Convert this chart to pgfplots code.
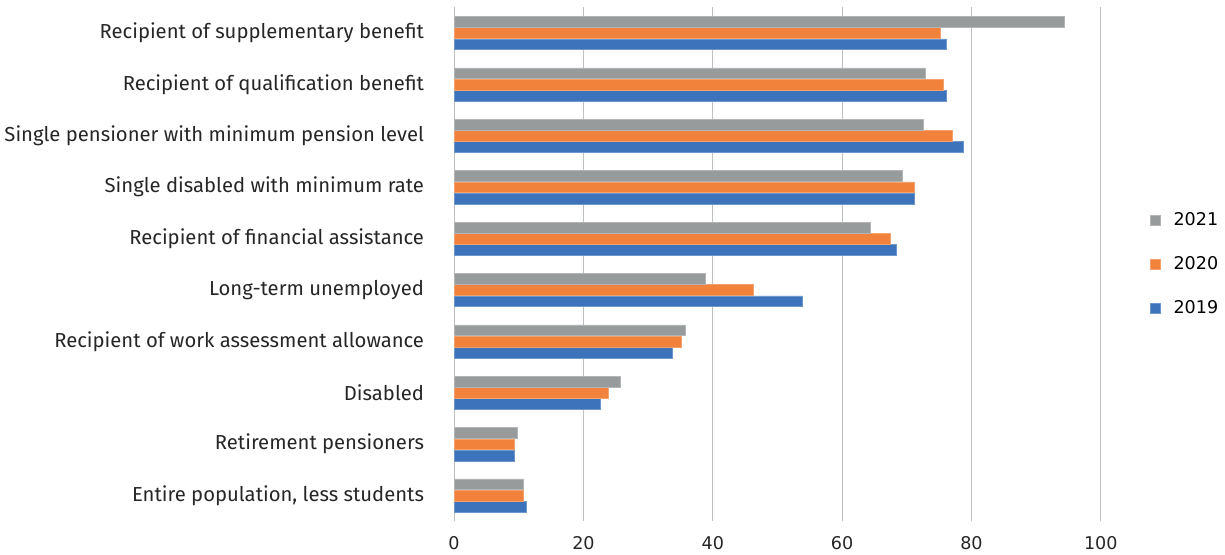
\documentclass[border=0pt]{standalone}
\usepackage{pgfplots}
\pgfplotsset{compat=1.18}
\usepackage{fontspec}
\setmainfont{Fira Sans}
\newfontfamily\tickfont{DejaVu Sans}
\definecolor{cgrey}{RGB}{152,155,156}
\definecolor{corange}{RGB}{240,130,60}
\definecolor{cblue}{RGB}{61,115,186}
\definecolor{cgrid}{RGB}{190,192,194}
\begin{document}
\begin{tikzpicture}
\begin{axis}[
  scale only axis,
  width=479pt, height=380.6pt,
  xbar=0.3pt, bar width=8pt,
  xmin=0, xmax=100,
  ymin=-0.5, ymax=9.5,
  xtick={0,20,40,60,80,100},
  ytick={0,1,2,3,4,5,6,7,8,9},
  yticklabels={{Entire population, less students},{Retirement pensioners},{Disabled},{Recipient of work assessment allowance},{Long-term unemployed},{Recipient of financial assistance},{Single disabled with minimum rate},{Single pensioner with minimum pension level},{Recipient of qualification benefit},{Recipient of supplementary benefit}},
  yticklabel style={font=\fontsize{15pt}{17pt}\selectfont, text=black!85, xshift=-14.5pt},
  xticklabel style={font=\tickfont\fontsize{13pt}{15pt}\selectfont, text=black!85, yshift=-8pt},
  /pgf/number format/assume math mode=true,
  xmajorgrids, major grid style={cgrid, line width=0.8pt},
  axis line style={draw=none},
  tick style={draw=none},
  legend style={draw=none, fill=none, at={(1.07,0.5)}, anchor=west,
    font=\tickfont\fontsize{13pt}{15pt}\selectfont, row sep=17.5pt,
    legend cell align=left},
  legend image code/.code={\fill[#1] (0pt,-3.75pt) rectangle (7.5pt,3.75pt); \path[draw=none,fill=none] (0pt,0pt) rectangle (15pt,0.1pt);},
  reverse legend,
]
\addplot[fill=cblue, draw=cblue!75!white, line width=0.4pt] coordinates {
 (11.1,0) (9.3,1) (22.6,2) (33.8,3) (53.9,4) (68.4,5) (71.1,6) (78.8,7) (76.1,8) (76.1,9)};
\addplot[fill=corange, draw=corange!75!white, line width=0.4pt] coordinates {
 (10.7,0) (9.3,1) (23.8,2) (35.2,3) (46.2,4) (67.4,5) (71.1,6) (77.0,7) (75.6,8) (75.2,9)};
\addplot[fill=cgrey, draw=cgrey!75!white, line width=0.4pt] coordinates {
 (10.7,0) (9.8,1) (25.7,2) (35.7,3) (38.9,4) (64.3,5) (69.3,6) (72.5,7) (72.9,8) (94.3,9)};
\legend{2019,2020,2021}
\end{axis}
\path (current axis.north) -- ++(0pt,5.5pt);
\end{tikzpicture}
\end{document}
